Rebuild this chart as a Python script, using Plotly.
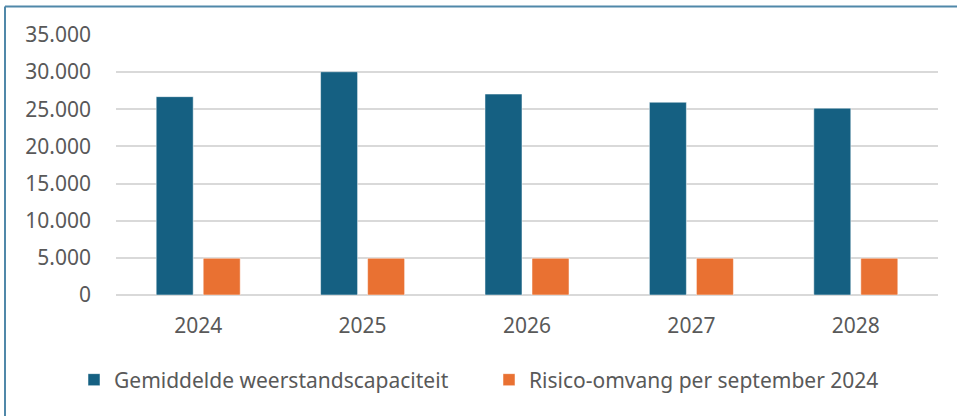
import plotly.graph_objects as go

years = ["2024", "2025", "2026", "2027", "2028"]
weerstand = [26700, 30050, 27050, 25950, 25150]
risico = [4950, 4950, 4950, 4950, 4950]
series_names = ["Gemiddelde weerstandscapaciteit", "Risico-omvang per september 2024"]
y_ticks = [0, 5000, 10000, 15000, 20000, 25000, 30000, 35000]

W, H = 957, 416
L, R, T, B = 116, 19, 35, 121
FONT = "Noto Sans"
TXT = "#595959"

fig = go.Figure()
fig.add_trace(go.Bar(x=years, y=weerstand, name=series_names[0],
                     marker=dict(color="#156082", line=dict(color="#FFFFFF", width=0.5))))
fig.add_trace(go.Bar(x=years, y=risico, name=series_names[1],
                     marker=dict(color="#E97132", line=dict(color="#FFFFFF", width=0.5))))

pw = W - L - R
ph = H - T - B
def px2x(px):
    return (px - L) / pw
def py2y(py):
    return (H - B - py) / ph

border = "#5088A9"
fig.add_shape(type="line", xref="paper", yref="paper",
              x0=px2x(5), x1=px2x(W + 5), y0=py2y(6.5), y1=py2y(6.5),
              line=dict(color=border, width=2))
fig.add_shape(type="line", xref="paper", yref="paper",
              x0=px2x(5), x1=px2x(5), y0=py2y(6.5), y1=py2y(H + 5),
              line=dict(color=border, width=2))

fig.update_layout(
    width=W, height=H,
    margin=dict(l=L, r=R, t=T, b=B, autoexpand=False),
    paper_bgcolor="white", plot_bgcolor="white",
    barmode="group", bargap=0.428, bargroupgap=0.213,
    separators=",.",
    font=dict(family=FONT, size=21, color=TXT),
    showlegend=True,
    legend=dict(orientation="h", xref="paper", yref="paper",
                x=px2x(74), y=py2y(380), xanchor="left", yanchor="middle",
                font=dict(family=FONT, size=21, color=TXT),
                entrywidth=370, entrywidthmode="pixels", itemclick=False,
                bgcolor="rgba(0,0,0,0)"),
)
fig.update_yaxes(range=[0, 35000], tickvals=y_ticks, tickformat=",d",
                 showgrid=True, gridcolor="#D9D9D9", gridwidth=1.5,
                 zeroline=True, zerolinecolor="#D9D9D9", zerolinewidth=1.5,
                 showline=False, ticks="", ticklabelstandoff=24,
                 tickfont=dict(family=FONT, size=21, color=TXT), fixedrange=True)
fig.update_xaxes(showgrid=False, showline=False, ticks="", ticklabelstandoff=16,
                 tickfont=dict(family=FONT, size=21, color=TXT), fixedrange=True)

fig.write_html("out.html", config={"displayModeBar": False})
